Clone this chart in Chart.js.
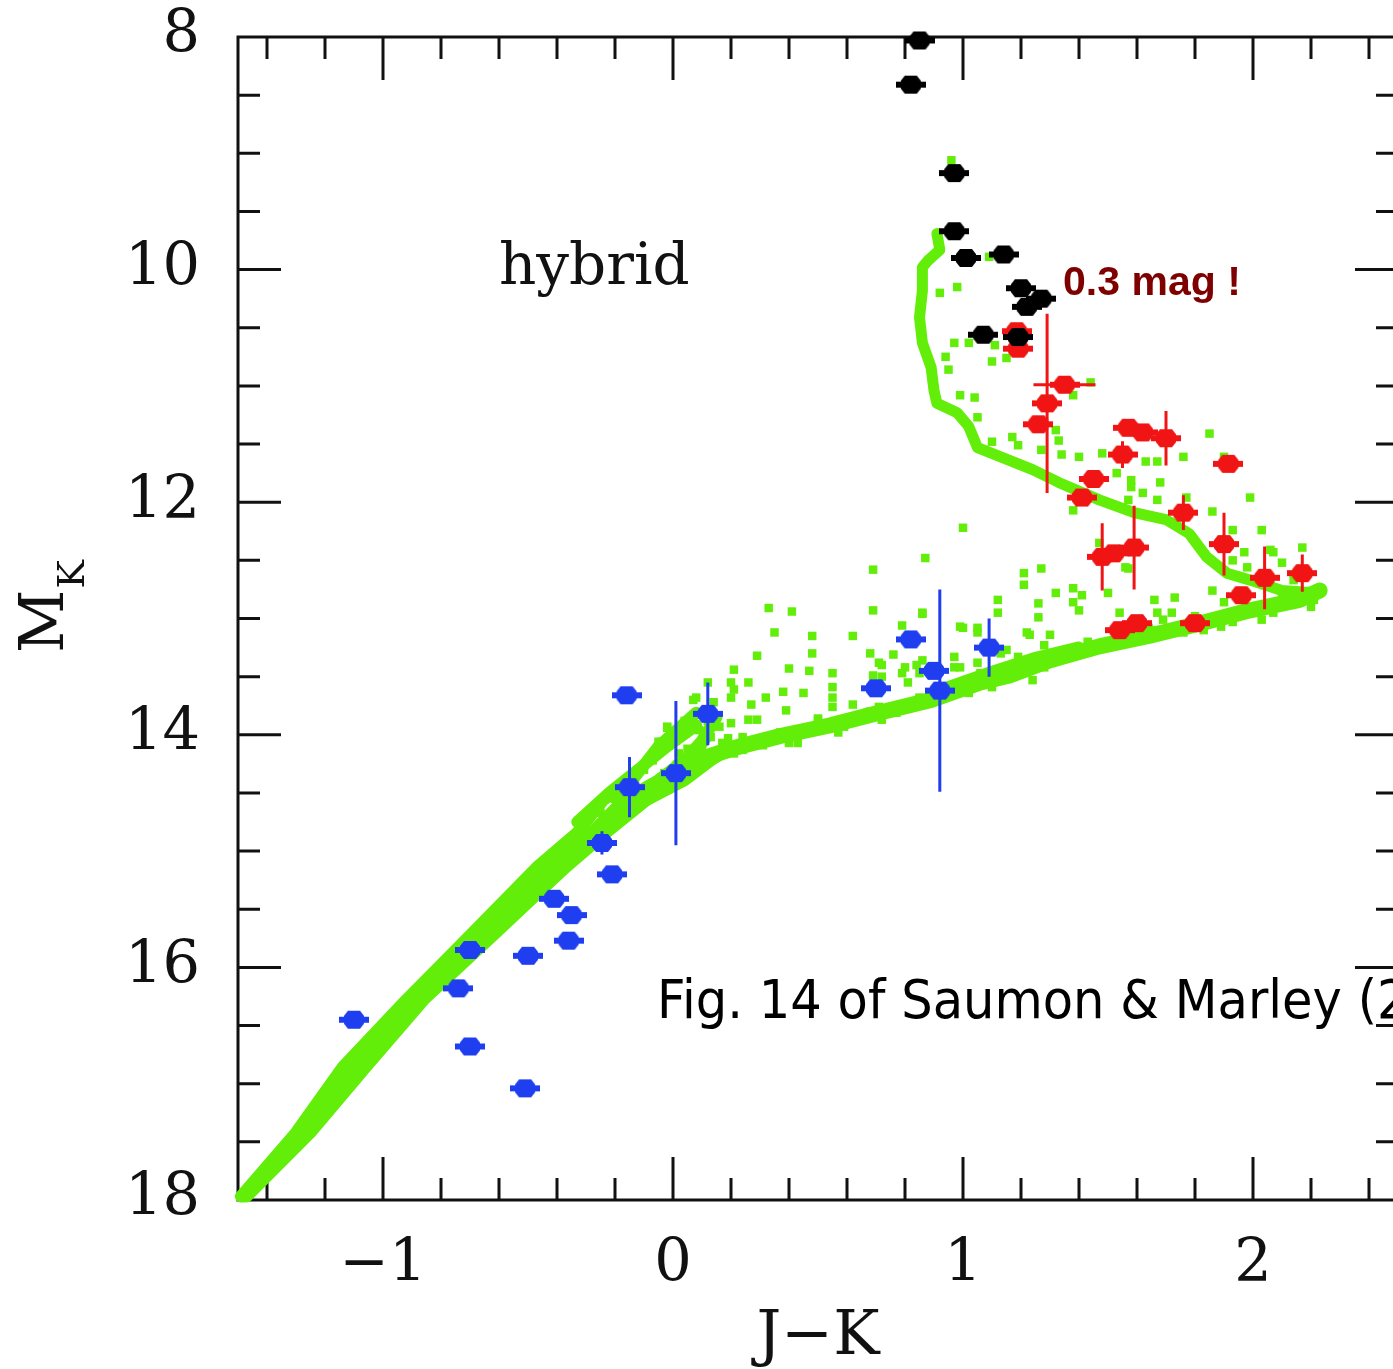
<!DOCTYPE html>
<html>
<head>
<meta charset="utf-8">
<title>M_K vs J-K (hybrid)</title>
<script src="https://cdn.jsdelivr.net/npm/chart.js"></script>
<style>
  html, body { margin: 0; padding: 0; background: #fff; overflow: hidden; }
  #wrap { width: 1420px; height: 1369px; }
</style>
</head>
<body>
<div id="wrap"><canvas id="cmd" width="1420" height="1369"></canvas></div>
<script>
// --- observed dwarfs ---
const blackJK = [0.85, 0.82, 0.97, 0.97, 1.01, 1.14, 1.20, 1.27, 1.22, 1.07, 1.19];
const blackMK = [8.03, 8.41, 9.17, 9.67, 9.90, 9.87, 10.16, 10.25, 10.32, 10.56, 10.58];

const redJK    = [1.185, 1.19, 1.35, 1.29, 1.26, 1.57, 1.62, 1.70, 1.55, 1.915, 1.45, 1.41, 1.76, 1.90, 1.59, 1.52, 1.48, 2.04, 2.17, 1.96, 1.54, 1.60, 1.80];
const redMK    = [10.53, 10.68, 10.99, 11.15, 11.33, 11.36, 11.40, 11.45, 11.59, 11.67, 11.80, 11.96, 12.09, 12.36, 12.39, 12.44, 12.47, 12.65, 12.61, 12.80, 13.10, 13.04, 13.04];
const redErrJK = [0, 0, 0.107, 0, 0, 0, 0, 0, 0, 0, 0, 0, 0, 0, 0, 0, 0.05, 0, 0, 0, 0, 0, 0];
const redErrMK = [0, 0, 0, 0.77, 0, 0, 0, 0.235, 0.115, 0, 0, 0, 0.15, 0.27, 0.36, 0, 0.29, 0.27, 0.16, 0, 0, 0, 0];

const blueJK    = [-0.16, 0.12, 0.01, -0.15, -0.245, -0.21, -0.41, -0.35, -0.36, -0.70, -0.50, -0.74, -1.10, -0.70, -0.51, 0.70, 0.82, 0.90, 0.92, 1.09];
const blueMK    = [13.66, 13.82, 14.33, 14.45, 14.93, 15.20, 15.41, 15.55, 15.77, 15.85, 15.90, 16.18, 16.45, 16.68, 17.04, 13.60, 13.18, 13.45, 13.62, 13.25];
const blueErrMK = [0, 0.27, 0.62, 0.26, 0.1, 0, 0, 0, 0, 0, 0, 0, 0, 0, 0, 0, 0, 0, 0.87, 0.25];
const blueErrJK = blueJK.map(() => 0);

// --- hybrid cloud model: dense sequences ---
const diagEdgeA = [[-1.49,17.97],[-1.30,17.42],[-1.14,16.86],[-0.92,16.28],[-0.69,15.70],[-0.58,15.42],[-0.47,15.14],[-0.33,14.84],[-0.24,14.56],[-0.14,14.39],[-0.05,14.10],[0.08,13.81]];
const diagEdgeB = [[-1.47,17.97],[-1.25,17.42],[-1.06,16.86],[-0.86,16.28],[-0.61,15.70],[-0.49,15.42],[-0.37,15.14],[-0.23,14.84],[-0.09,14.56],[0.04,14.39],[0.13,14.22],[0.21,14.10]];
const diagMid   = [[-1.48,17.97],[-1.28,17.42],[-1.10,16.86],[-0.89,16.28],[-0.65,15.70],[-0.53,15.42],[-0.42,15.14],[-0.28,14.84],[-0.17,14.56],[-0.05,14.39],[0.04,14.22],[0.10,14.05],[0.15,13.85]];
const diagInner = [[-0.55,15.42],[-0.40,15.14],[-0.26,14.84],[-0.12,14.56],[-0.02,14.39],[0.06,14.22],[0.12,14.00]];
const diagKnee  = [[-0.33,14.75],[-0.22,14.50],[-0.12,14.30],[-0.02,14.10],[0.08,13.92]];
const flatSeq   = [[0.02,14.27],[0.23,14.10],[0.37,14.01],[0.54,13.92],[0.71,13.81],[0.89,13.70],[1.06,13.55],[1.16,13.49],[1.30,13.36],[1.47,13.24],[1.64,13.15],[1.82,13.04],[1.99,12.93],[2.16,12.84],[2.23,12.76]];
const flatUpper = [[0.95,13.58],[1.10,13.45],[1.25,13.33],[1.40,13.24]];
const upperSeq  = [[0.91,9.69],[0.92,9.83],[0.88,9.92],[0.86,9.98],[0.86,10.18],[0.85,10.41],[0.86,10.63],[0.89,10.84],[0.90,11.04],[0.91,11.15],[0.98,11.23],[1.02,11.35],[1.05,11.53],[1.13,11.61],[1.24,11.72],[1.33,11.83],[1.47,11.98],[1.59,12.09],[1.70,12.15],[1.78,12.27],[1.84,12.47],[1.91,12.61],[1.99,12.67],[2.10,12.76],[2.22,12.78]];

// --- hybrid cloud model: scattered grid points ---
const modelPts = [
  [0.96,9.06],[1.09,9.89],[0.92,10.20],[0.98,10.15],[0.97,10.63],[1.02,10.63],[0.94,10.75],[0.95,10.86],
  [1.11,10.65],[1.10,10.79],[1.15,10.76],[0.99,11.08],[1.04,11.10],[1.05,11.27],[1.10,11.48],[1.17,11.44],
  [1.19,11.51],[1.32,11.38],[1.33,11.47],[1.27,11.55],[1.34,11.59],[1.40,11.61],[1.44,10.97],[1.38,11.08],
  [1.48,11.58],[1.53,11.75],[1.58,11.81],[1.63,11.65],[1.67,11.65],[1.76,11.61],[1.68,11.83],[1.85,11.41],
  [1.90,11.61],[1.99,11.96],[1.38,12.07],[1.57,11.98],[1.62,11.92],[1.58,11.87],[1.67,11.98],[1.77,11.96],
  [1.86,12.08],[1.93,12.24],[2.03,12.24],[2.06,12.41],[2.10,12.52],[2.17,12.39],[1.98,12.56],[2.14,12.67],
  [2.21,12.84],[1.00,12.22],[0.87,12.48],[1.21,12.61],[1.27,12.57],[1.21,12.71],[1.32,12.78],[1.38,12.74],
  [1.41,12.80],[1.38,12.86],[1.26,12.87],[1.12,12.84],[1.12,12.95],[1.26,12.99],[1.40,12.93],[1.50,12.78],
  [1.57,12.57],[1.66,12.84],[1.73,12.82],[1.67,12.95],[1.72,12.95],[1.86,12.76],[1.92,13.01],[2.02,12.93],
  [2.07,12.95],[0.86,12.95],[0.79,13.06],[0.99,13.07],[1.05,13.12],[1.22,13.12],[1.30,13.14],[1.54,12.95],
  [1.64,13.08],[1.76,13.12],[1.83,13.10],[1.89,13.07],[1.99,12.95],[1.23,13.14],[1.28,13.23],[1.43,13.20],
  [1.69,13.01],[1.66,13.10],[1.90,12.86],[1.93,13.03],[2.03,13.01],[1.97,12.43],[2.07,12.43],[1.93,12.50],
  [1.56,12.56],[1.47,12.35],
  [0.33,12.91],[0.41,12.94],[0.69,12.58],[0.69,12.93],[0.86,12.96],[0.35,13.12],[0.48,13.15],[0.62,13.15],
  [0.29,13.32],[0.48,13.30],[0.40,13.43],[0.47,13.45],[0.55,13.47],[0.21,13.44],[0.26,13.55],[0.20,13.55],
  [0.32,13.68],[0.38,13.63],[0.45,13.64],[0.55,13.59],[0.55,13.68],[0.68,13.30],[0.76,13.31],[0.72,13.40],
  [0.80,13.42],[0.84,13.40],[0.69,13.49],[0.85,13.47],[0.81,13.55],[0.97,13.33],[1.00,13.08],[1.05,13.08],
  [1.10,13.27],[1.13,13.30],[0.99,13.42],[1.02,13.53],[1.06,13.47],[1.15,13.27],[1.19,13.33],
  [0.07,13.70],[0.12,13.55],[0.20,13.68],[0.21,13.61],[0.27,13.74],[-0.02,13.93],[0.20,13.90],[0.24,14.02],
  [0.29,13.87],[0.31,14.09],[0.37,13.98],[0.43,14.07],[0.50,13.87],[0.59,13.93],[0.68,13.80],[0.72,13.87],
  [0.77,13.81],[0.82,13.76],[0.85,13.68],[0.96,13.62],[1.01,13.53],[1.07,13.53],[1.13,13.47],[1.19,13.42],
  [1.24,13.53],[1.28,13.42],[0.71,13.38],[0.72,13.50],[0.79,13.47],[0.86,13.36],[0.97,13.42],[1.05,13.38],
  [0.08,13.68],[0.14,13.72],[0.39,13.79],[0.55,13.76],[0.62,13.74],[0.62,13.89],[0.50,13.86],[0.44,13.98],
  [0.33,14.04],[0.26,13.87],[0.17,14.07],[0.40,14.07],[0.53,13.93],[0.57,13.98],[0.67,13.81],[0.71,13.76],
  [0.76,13.81],[0.83,13.76],[0.89,13.70],[0.97,13.64],[1.02,13.64],[1.10,13.59],
  [-0.37,14.93],[-0.31,14.82],[-0.07,14.22],[-0.05,14.06],[-0.02,13.94],[0.02,14.16],[-0.10,14.30],[-0.16,14.62],
  [-0.25,14.67],[-0.30,14.76],[-0.30,14.84],[-0.12,14.30],[-0.04,14.06],[0.13,14.02],[0.21,14.16],[0.24,14.13],
  [-0.41,15.10],[-0.46,15.25],
  [-0.08,14.45],[-0.03,14.33],[0.01,14.05],[0.05,14.12],[0.09,13.96],[0.16,13.93],[0.19,14.03],[0.10,14.15],
  [-0.20,14.55],[0.04,13.88],[0.12,13.88],[-0.13,14.50],[1.40,13.30],[1.55,13.20],[1.70,13.10],[1.80,12.98],
  [1.85,13.02],[2.12,12.86],[2.18,12.78],[2.10,12.82],[2.20,12.90],[2.05,12.88]
];

// axis tick values
const xLabelValues = [-1, 0, 1, 2];
const yLabelValues = [8, 10, 12, 14, 16, 18];

const GREEN = '#62ee08';
const RED = '#f01414';
const BLUE = '#1e3ef0';
const INK = '#111';

// filled octagon with short horizontal caps
function marker(color) {
  const c = document.createElement('canvas');
  c.width = 30; c.height = 20;
  const g = c.getContext('2d');
  g.fillStyle = color;
  g.beginPath();
  g.moveTo(9, 1); g.lineTo(21, 1); g.lineTo(25, 6); g.lineTo(25, 14);
  g.lineTo(21, 19); g.lineTo(9, 19); g.lineTo(5, 14); g.lineTo(5, 6);
  g.closePath();
  g.fill();
  g.fillRect(0, 7, 30, 6);
  return c;
}

const pts = (xs, ys) => xs.map((x, i) => ({ x: x, y: ys[i] }));
const pairs = arr => arr.map(p => ({ x: p[0], y: p[1] }));

function band(arr, width) {
  return {
    data: pairs(arr), showLine: true, pointRadius: 0, borderColor: GREEN,
    borderWidth: width, borderJoinStyle: 'round', borderCapStyle: 'round',
    fill: false, order: 9, clip: false
  };
}

// error bars are drawn right before their own markers
const errBars = {
  id: 'errBars',
  beforeDatasetDraw(chart, args) {
    const ds = chart.data.datasets[args.index];
    if (!ds.errX) return;
    const { ctx, scales: { x, y } } = chart;
    ctx.save();
    ctx.strokeStyle = ds.errColor;
    ctx.lineWidth = 3;
    ctx.beginPath();
    ds.data.forEach((p, i) => {
      const px = x.getPixelForValue(p.x), py = y.getPixelForValue(p.y);
      if (ds.errY[i] > 0) {
        ctx.moveTo(px, y.getPixelForValue(p.y - ds.errY[i]));
        ctx.lineTo(px, y.getPixelForValue(p.y + ds.errY[i]));
      }
      if (ds.errX[i] > 0) {
        ctx.moveTo(x.getPixelForValue(p.x - ds.errX[i]), py);
        ctx.lineTo(x.getPixelForValue(p.x + ds.errX[i]), py);
      }
    });
    ctx.stroke();
    ctx.restore();
  }
};

// box frame with inward major/minor ticks on all four sides
const frame = {
  id: 'frame',
  beforeDatasetsDraw(chart) {
    const { ctx, chartArea: a, scales: { x, y } } = chart;
    ctx.save();
    ctx.strokeStyle = INK;
    ctx.lineWidth = 3;
    ctx.strokeRect(a.left, a.top, a.right - a.left, a.bottom - a.top);
    ctx.beginPath();
    for (let k = -7; k <= 12; k++) {       // every 0.2 in J-K
      const v = k / 5;
      const len = (k % 5 === 0) ? 43 : 22;
      const px = x.getPixelForValue(v);
      ctx.moveTo(px, a.top); ctx.lineTo(px, a.top + len);
      ctx.moveTo(px, a.bottom); ctx.lineTo(px, a.bottom - len);
    }
    for (let k = 17; k <= 35; k++) {       // every 0.5 in M_K
      const v = k / 2;
      const len = (k % 4 === 0) ? 43 : 22;
      const py = y.getPixelForValue(v);
      ctx.moveTo(a.left, py); ctx.lineTo(a.left + len, py);
      ctx.moveTo(a.right, py); ctx.lineTo(a.right - len, py);
    }
    ctx.stroke();
    ctx.restore();
  },
  afterDraw(chart) {
    const { ctx, scales: { x, y } } = chart;
    ctx.save();
    // y-axis title M_K
    ctx.fillStyle = INK;
    ctx.translate(63, 653);
    ctx.rotate(-Math.PI / 2);
    ctx.textBaseline = 'alphabetic';
    ctx.font = '62px "DejaVu Serif"';
    ctx.fillText('M', 0, 0);
    const mw = ctx.measureText('M').width;
    ctx.font = '38px "DejaVu Serif"';
    ctx.fillText('K', mw + 1, 21);
    ctx.restore();

    ctx.save();
    ctx.fillStyle = INK;
    ctx.font = '58px "DejaVu Serif"';
    ctx.fillText('hybrid', x.getPixelForValue(-0.6), y.getPixelForValue(10.12));

    ctx.fillStyle = '#7f0000';
    ctx.font = 'bold 41px "Liberation Sans"';
    ctx.fillText('0.3 mag !', x.getPixelForValue(1.345), y.getPixelForValue(10.22));

    ctx.fillStyle = '#000';
    ctx.font = '54px "DejaVu Sans"';
    const cap = 'Fig. 14 of Saumon & Marley (2008)';
    const sx = 720 / ctx.measureText('Fig. 14 of Saumon & Marley (').width;
    ctx.translate(x.getPixelForValue(-0.055), y.getPixelForValue(16.435));
    ctx.scale(sx, 1);
    ctx.fillText(cap, 0, 0);
    ctx.restore();
  }
};

const serif = (size, lh) => ({ family: 'DejaVu Serif', size: size, lineHeight: lh || 1.2 });

new Chart(document.getElementById('cmd'), {
  type: 'scatter',
  data: {
    datasets: [
      { data: pts(blackJK, blackMK), pointStyle: marker('#000'), pointRadius: 9, order: 0, clip: false },
      { data: pts(redJK, redMK), pointStyle: marker(RED), pointRadius: 9, order: 1, clip: false,
        errX: redErrJK, errY: redErrMK, errColor: RED },
      { data: pts(blueJK, blueMK), pointStyle: marker(BLUE), pointRadius: 9, order: 2, clip: false,
        errX: blueErrJK, errY: blueErrMK, errColor: BLUE },
      { data: pairs(modelPts), pointStyle: 'rect', pointRadius: 6, backgroundColor: GREEN,
        borderWidth: 0, order: 5, clip: false },
      band(diagEdgeA, 12),
      band(diagEdgeB, 12),
      band(diagMid, 12),
      band(diagInner, 12),
      band(diagKnee, 12),
      band(flatSeq, 16),
      band(flatUpper, 10),
      band(upperSeq, 11)
    ]
  },
  options: {
    responsive: false,
    devicePixelRatio: 1,
    animation: false,
    events: [],
    layout: { padding: { top: 37, right: 22, left: 0, bottom: 0 } },
    plugins: { legend: { display: false }, tooltip: { enabled: false } },
    scales: {
      x: {
        type: 'linear', min: -1.5, max: 2.5,
        afterFit: s => { s.height = 169; s.paddingLeft = 0; s.paddingRight = 0; },
        afterBuildTicks: s => { s.ticks = xLabelValues.map(v => ({ value: v })); },
        grid: { display: false, drawTicks: false },
        border: { display: false },
        ticks: {
          padding: 30, color: INK, font: serif(59), autoSkip: false, maxRotation: 0,
          callback: v => (v < 0 ? '\u2212' + Math.abs(v) : String(v))
        },
        title: { display: true, text: 'J\u2212K', color: INK, font: serif(62, 1), padding: 0 }
      },
      y: {
        type: 'linear', reverse: true, min: 8, max: 18,
        afterFit: s => { s.width = 238; s.paddingTop = 0; s.paddingBottom = 0; },
        afterBuildTicks: s => { s.ticks = yLabelValues.map(v => ({ value: v })); },
        grid: { display: false, drawTicks: false },
        border: { display: false },
        ticks: { padding: 38, color: INK, font: serif(59), autoSkip: false }
      }
    }
  },
  plugins: [frame, errBars]
});
</script>
</body>
</html>
